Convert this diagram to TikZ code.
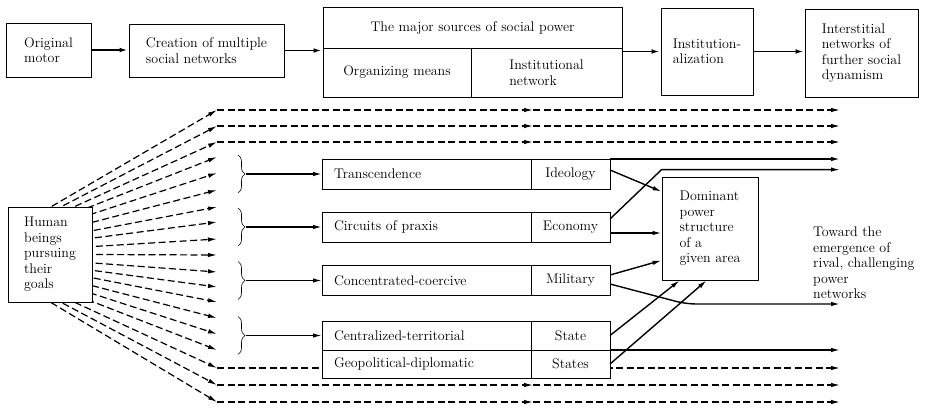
\documentclass[tikz,border=0pt]{standalone}
\usepackage{fontspec}
\usetikzlibrary{arrows.meta}
\usetikzlibrary{decorations.pathreplacing}
\usetikzlibrary{calc}

\tikzset{
	>={Latex[length=9pt,width=4.5pt]},
	box/.style={draw, line width=0.8pt, align=left, inner sep=2pt},
	cell/.style={draw, line width=0.8pt, fill=white, anchor=west, outer sep=0pt, minimum height=30pt},
	flow/.style={->, line width=1.8pt},
	link/.style={->, line width=1.4pt},
	fanline/.style={->, line width=1.2pt, dash pattern=on 7pt off 3.5pt},
}

\begin{document}
\begin{tikzpicture}[x=1pt, y=-1pt, every node/.style={font=\fontsize{14}{15.5}\selectfont}]
	\useasboundingbox (0,0) rectangle (930,408);

	% top row
	\node[box, minimum width=85pt, minimum height=54pt] (motor) at (48.5,50) {Original\\motor};
	\node[box, minimum width=155pt, minimum height=53pt] (creation) at (206.5,50.5) {Creation of multiple\\social networks};
	\node[box, minimum width=299pt, minimum height=41pt] (major) at (472.5,27.5) {The major sources of social power};
	\node[box, minimum width=148pt, minimum height=49pt] (means) at (397,72.5) {Organizing means};
	\node[box, minimum width=151pt, minimum height=49pt] (instnet) at (546.5,72.5) {Institutional\\network};
	\node[box, minimum width=92pt, minimum height=87pt] (inst) at (707,51.5) {Institution-\\alization};
	\node[box, minimum width=113pt, minimum height=88pt] (inter) at (861.5,53) {Interstitial\\networks of\\further social\\dynamism};

	\draw[flow] (motor.east) -- (motor.east -| creation.west);
	\draw[flow] (creation.east) -- (creation.east -| major.west);
	\draw[flow] (inst.west -| major.east) -- (inst.west);
	\draw[flow] (inst.east) -- (inst.east -| inter.west);

	% where the long lines stop / get their middle arrow
	\coordinate (edge) at (840,0);
	\coordinate (mid) at (533,0);
	\coordinate (fan) at (-30,254);

	% fan of goals
	\begin{scope}
		\clip (8,0) rectangle (930,408);
		\foreach \y [count=\i] in {110,126,142,157,173,190,207,222,239,255,272,287,302,318,334,350,368,385,402}
		{
			\coordinate (e\i) at (217,\y);
			\draw[fanline] (fan) -- (e\i);
		}
	\end{scope}
	\node[box, fill=white, minimum width=84pt, minimum height=95pt] (human) at (50,254.5) {Human\\beings\\pursuing\\their\\goals};

	% networks running straight through
	\foreach \i in {1,2,3,18,19}
	{
		\draw[fanline] (e\i) -- (e\i -| mid);
		\draw[fanline] (e\i -| mid) -- (e\i -| edge);
	}
	\draw[fanline] (e17) -- (e17 -| edge);

	% the four sources
	\node[cell, text width=185pt, inner xsep=12pt, align=left] (trans) at (322,174) {Transcendence};
	\node[cell, minimum width=79pt] (ideo) at (trans.east) {Ideology};
	\node[cell, text width=185pt, inner xsep=12pt, align=left] (praxis) at (322,227) {Circuits of praxis};
	\node[cell, minimum width=79pt] (econ) at (praxis.east) {Economy};
	\node[cell, text width=185pt, inner xsep=12pt, align=left] (coerc) at (322,280.5) {Concentrated-coercive};
	\node[cell, minimum width=79pt] (milit) at (coerc.east) {Military};
	\node[cell, text width=185pt, inner xsep=12pt, align=left, minimum height=29pt] (terr) at (322,335.5) {Centralized-territorial};
	\node[cell, minimum width=79pt, minimum height=29pt] (state) at (terr.east) {State};
	\node[cell, text width=185pt, inner xsep=12pt, align=left, minimum height=28pt] (geo) at (322,364) {Geopolitical-diplomatic};
	\node[cell, minimum width=79pt, minimum height=28pt] (states) at (geo.east) {States};

	% braces
	\foreach \y/\n in {174/trans, 227/praxis, 280.5/coerc, 335.5/terr}
	{
		\draw[line width=0.6pt, decorate, decoration={brace, amplitude=7pt}] (238,{\y-19}) -- (238,{\y+19});
		\coordinate (b\n) at (246,\y);
		\draw[link] (b\n) -- (b\n -| \n.west);
	}

	\node[box, minimum width=96pt, minimum height=103pt] (dom) at (710,228.5) {Dominant\\power\\structure\\of a\\given area};

	% out of the sources
	\draw[link] (ideo.north east) -- (ideo.north east -| edge);
	\draw[link] ([yshift=4pt]ideo.east) -- ([yshift=-15pt]dom.north west);
	\draw[link] ([yshift=8pt]econ.east) -- ([yshift=7pt]dom.north west) -- ([yshift=7pt]dom.north west -| edge);
	\draw[link] ([yshift=-6pt]econ.east) -- ([yshift=-6pt]econ.east -| dom.west);
	\draw[link] ([yshift=5.5pt]milit.east) -- ([yshift=20pt]dom.south west);
	\draw[link, rounded corners=10pt] ([yshift=-3.5pt]milit.east) -- (686,304) -- (686,304 -| edge);
	\draw[link] (state.east) -- ([xshift=18pt]dom.south west);
	\draw[link] (state.south east) -- (state.south east -| edge);
	\draw[link] (states.east) -- ([xshift=45pt]dom.south west);

	\node[align=left, anchor=north west, inner sep=0pt] (toward) at (813,227) {Toward the\\emergence of\\rival, challenging\\power\\networks};
\end{tikzpicture}
\end{document}
